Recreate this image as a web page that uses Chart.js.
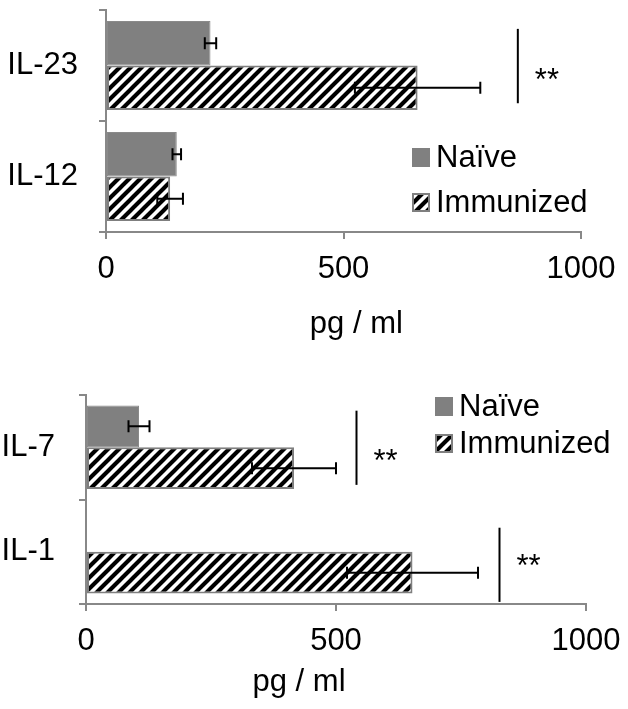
<!DOCTYPE html>
<html>
<head>
<meta charset="utf-8">
<script src="https://cdn.jsdelivr.net/npm/chart.js@4.4.1/dist/chart.umd.min.js"></script>
<style>
    html, body { margin: 0; padding: 0; background: #fff; }
    #wrap { position: relative; width: 628px; height: 709px; overflow: hidden; }
    canvas { position: absolute; left: 0; }
    #topChart { top: 0; }
    #bottomChart { top: 370px; }
</style>
</head>
<body>
<div id="wrap">
    <canvas id="topChart" width="628" height="350"></canvas>
    <canvas id="bottomChart" width="628" height="339"></canvas>
</div>
<script>
// Series names and axis text
const seriesNames = ['Naïve', 'Immunized'];
const axisTitle = 'pg / ml';
const xTicks = [0, 500, 1000];

// Top panel
const topCategories = ['IL-23', 'IL-12'];
const topNaive = [220, 149];
const topNaiveErr = [12, 9];
const topImmunized = [656, 135];
const topImmunizedErr = [132, 27];
const topSigCategories = ['IL-23'];
const topSigX = [867];

// Bottom panel
const bottomCategories = ['IL-7', 'IL-1'];
const bottomNaive = [106, null];
const bottomNaiveErr = [21, null];
const bottomImmunized = [416, 653];
const bottomImmunizedErr = [84, 131];
const bottomSigCategories = ['IL-7', 'IL-1'];
const bottomSigX = [541, 827];

const FONT = "'Liberation Sans', Arial, sans-serif";
const AXIS_GREY = '#888888';

// Black diagonal hatch on white, used for the Immunized bars
function makeHatch(ctx) {
    const s = 11;
    const tile = document.createElement('canvas');
    tile.width = s;
    tile.height = s;
    const g = tile.getContext('2d');
    g.fillStyle = '#fff';
    g.fillRect(0, 0, s, s);
    g.strokeStyle = '#000';
    g.lineWidth = 4.1;
    g.beginPath();
    [[-s, s, s, -s], [-s, 2 * s, 2 * s, -s], [0, 2 * s, 2 * s, 0]].forEach(([a, b, c, d]) => {
        g.moveTo(a, b);
        g.lineTo(c, d);
    });
    g.stroke();
    return ctx.createPattern(tile, 'repeat');
}

// Error bars, significance markers, legend and axis title
const extrasPlugin = {
    id: 'extras',
    afterDatasetsDraw(chart, args, opts) {
        const ctx = chart.ctx;
        const xs = chart.scales.x;
        const ys = chart.scales.y;
        ctx.save();

        // error bars
        ctx.strokeStyle = '#000';
        ctx.lineWidth = 2;
        chart.data.datasets.forEach((ds, i) => {
            const meta = chart.getDatasetMeta(i);
            ds.errors.forEach((err, j) => {
                const v = ds.data[j];
                if (v == null || err == null) return;
                const cy = meta.data[j].y;
                const x1 = xs.getPixelForValue(v - err);
                const x2 = xs.getPixelForValue(v + err);
                ctx.beginPath();
                ctx.moveTo(x1, cy);
                ctx.lineTo(x2, cy);
                ctx.moveTo(x1, cy - 6);
                ctx.lineTo(x1, cy + 6);
                ctx.moveTo(x2, cy - 6);
                ctx.lineTo(x2, cy + 6);
                ctx.stroke();
            });
        });

        // significance markers
        const labels = chart.data.labels;
        const catH = (ys.bottom - ys.top) / labels.length;
        ctx.font = '31px ' + FONT;
        ctx.fillStyle = '#000';
        ctx.textAlign = 'left';
        ctx.textBaseline = 'alphabetic';
        opts.sigCategories.forEach((cat, k) => {
            const idx = labels.indexOf(cat);
            const cy = ys.getPixelForValue(idx);
            const lx = xs.getPixelForValue(opts.sigX[k]);
            const span = opts.sigSpan[k];
            ctx.beginPath();
            ctx.moveTo(lx, cy + span[0] * catH);
            ctx.lineTo(lx, cy + span[1] * catH);
            ctx.stroke();
            ctx.fillText('**', lx + 17, cy + 24);
        });

        // legend
        const leg = opts.legend;
        ctx.textBaseline = 'middle';
        chart.data.datasets.forEach((ds, i) => {
            const top = leg.y + i * leg.gap;
            ctx.fillStyle = ds.backgroundColor;
            ctx.fillRect(leg.x, top, 18, 19);
            if (i === 1) {
                ctx.strokeStyle = ds.borderColor;
                ctx.lineWidth = 2;
                ctx.strokeRect(leg.x + 1, top + 1, 16, 17);
            }
            ctx.fillStyle = '#000';
            ctx.fillText(ds.label, leg.x + 24, top + 10);
        });

        // axis title
        ctx.font = '31px ' + FONT;
        ctx.textAlign = 'center';
        ctx.textBaseline = 'alphabetic';
        ctx.fillText(axisTitle, xs.getPixelForValue(opts.titleAt), opts.titleBaseline);
        ctx.restore();
    }
};

function makeChart(id, cfg) {
    const ctx = document.getElementById(id).getContext('2d');
    const hatch = makeHatch(ctx);
    return new Chart(ctx, {
        type: 'bar',
        data: {
            labels: cfg.categories,
            datasets: [
                {
                    label: seriesNames[0],
                    data: cfg.naive,
                    errors: cfg.naiveErr,
                    backgroundColor: '#808080',
                    borderColor: '#8a8a8a',
                    borderWidth: 1,
                    borderSkipped: false,
                    categoryPercentage: 0.8,
                    barPercentage: 1.0
                },
                {
                    label: seriesNames[1],
                    data: cfg.immunized,
                    errors: cfg.immunizedErr,
                    backgroundColor: hatch,
                    borderColor: '#7f7f7f',
                    borderWidth: 2,
                    borderSkipped: false,
                    categoryPercentage: 0.8,
                    barPercentage: 1.0
                }
            ]
        },
        options: {
            indexAxis: 'y',
            responsive: false,
            animation: false,
            layout: { padding: { top: cfg.padTop, right: cfg.padRight, left: 0, bottom: 0 } },
            scales: {
                x: {
                    min: 0,
                    max: 1000,
                    afterBuildTicks: scale => { scale.ticks = xTicks.map(v => ({ value: v })); },
                    afterFit: scale => {
                        scale.height = cfg.xHeight;
                        scale.paddingLeft = 0;
                        scale.paddingRight = 0;
                    },
                    ticks: {
                        font: { family: FONT, size: 31 },
                        color: '#000',
                        padding: 12,
                        maxRotation: 0,
                        callback: value => String(value)
                    },
                    grid: { drawOnChartArea: false, color: AXIS_GREY, lineWidth: 2, tickLength: 7 },
                    border: { color: AXIS_GREY, width: 2 }
                },
                y: {
                    afterFit: scale => {
                        scale.width = cfg.yWidth;
                        scale.paddingTop = 0;
                        scale.paddingBottom = 0;
                    },
                    ticks: { font: { family: FONT, size: 31 }, color: '#000', padding: cfg.yPad },
                    grid: { drawOnChartArea: false, color: AXIS_GREY, lineWidth: 2, tickLength: 7 },
                    border: { color: AXIS_GREY, width: 2 }
                }
            },
            plugins: {
                legend: { display: false },
                tooltip: { enabled: false },
                extras: {
                    sigCategories: cfg.sigCategories,
                    sigX: cfg.sigX,
                    sigSpan: cfg.sigSpan,
                    legend: cfg.legend,
                    titleAt: cfg.titleAt,
                    titleBaseline: cfg.titleBaseline
                }
            }
        },
        plugins: [extrasPlugin]
    });
}

makeChart('topChart', {
    categories: topCategories,
    naive: topNaive,
    naiveErr: topNaiveErr,
    immunized: topImmunized,
    immunizedErr: topImmunizedErr,
    sigCategories: topSigCategories,
    sigX: topSigX,
    sigSpan: [[-0.33, 0.34]],
    padTop: 10,
    padRight: 47,
    xHeight: 118,
    yWidth: 106,
    yPad: 21,
    legend: { x: 412, y: 148, gap: 45 },
    titleAt: 527,
    titleBaseline: 333
});

makeChart('bottomChart', {
    categories: bottomCategories,
    naive: bottomNaive,
    naiveErr: bottomNaiveErr,
    immunized: bottomImmunized,
    immunizedErr: bottomImmunizedErr,
    sigCategories: bottomSigCategories,
    sigX: bottomSigX,
    sigSpan: [[-0.35, 0.36], [-0.23, 0.48]],
    padTop: 25,
    padRight: 42,
    xHeight: 105,
    yWidth: 86,
    yPad: 24,
    legend: { x: 435, y: 27, gap: 37 },
    titleAt: 426,
    titleBaseline: 321
});
</script>
</body>
</html>
